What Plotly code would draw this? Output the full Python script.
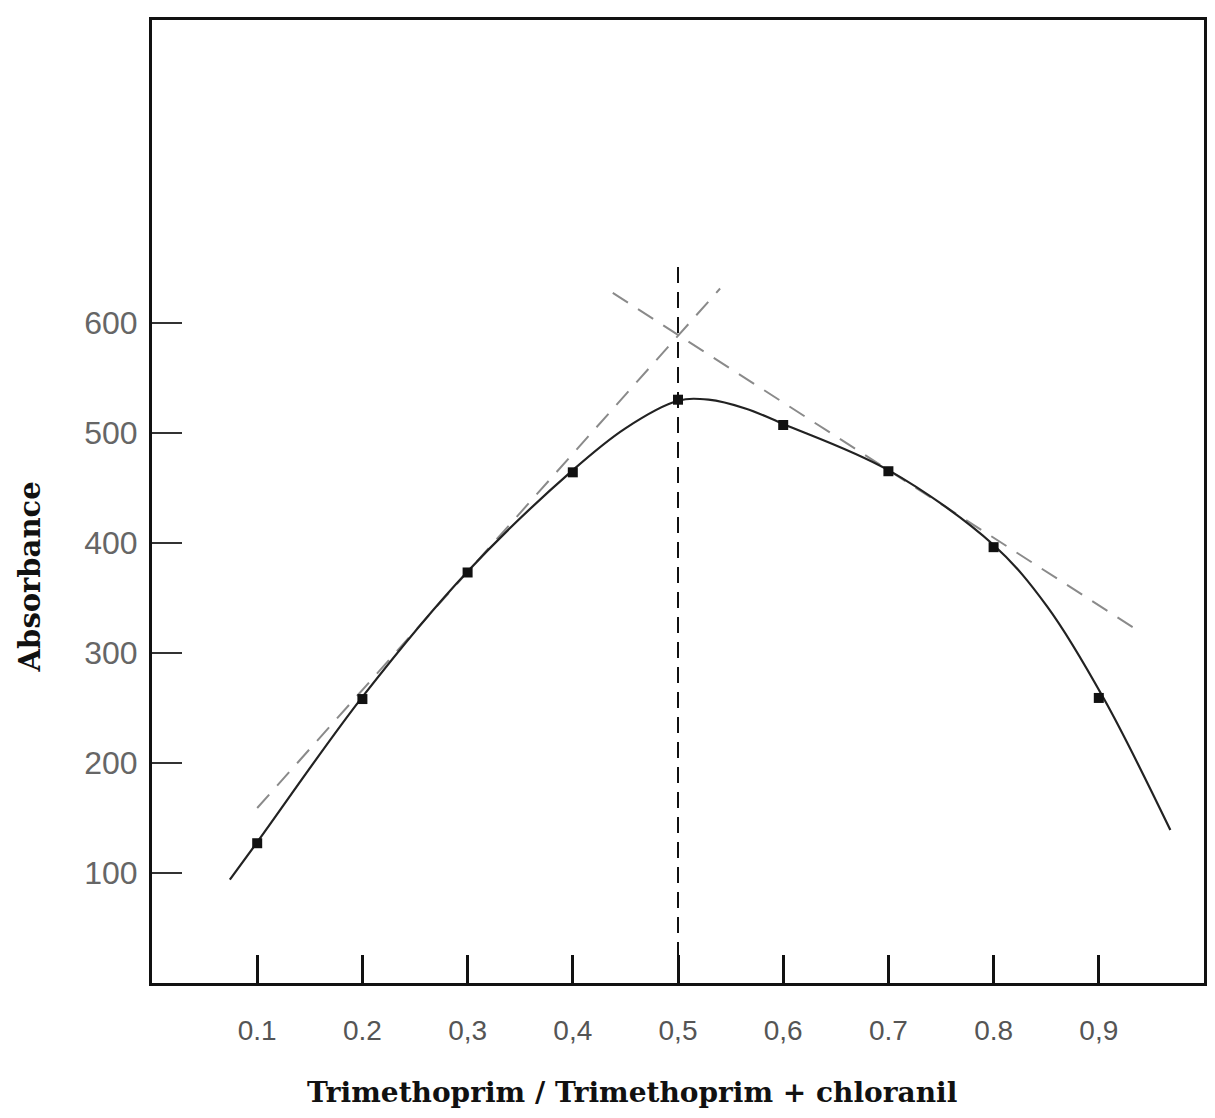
import plotly.graph_objects as go

# measured data points (mole fraction vs absorbance)
x_pts = [0.1, 0.2, 0.3, 0.4, 0.5, 0.6, 0.7, 0.8, 0.9]
y_pts = [127, 258, 373, 464, 530, 507, 465, 396, 259]

# smooth fitted curve
x_curve = [0.074, 0.1, 0.2, 0.3, 0.4, 0.45, 0.5, 0.529, 0.564, 0.6, 0.7, 0.8, 0.851, 0.905, 0.968]
y_curve = [94, 128, 260, 374, 466, 504, 529, 530, 522, 508, 466, 398, 342, 258, 139]

# tangent lines
x_tan_left = [0.10, 0.54]
y_tan_left = [159, 631]
x_tan_right = [0.438, 0.936]
y_tan_right = [627, 321]

# vertical guide at x = 0.5
x_vert = [0.5, 0.5]
y_vert = [0, 651]

x_ticks = [0.1, 0.2, 0.3, 0.4, 0.5, 0.6, 0.7, 0.8, 0.9]
x_ticktext = ["0.1", "0.2", "0,3", "0,4", "0,5", "0,6", "0.7", "0.8", "0,9"]
y_ticks = [100, 200, 300, 400, 500, 600]
y_ticktext = ["100", "200", "300", "400", "500", "600"]

fig = go.Figure()
fig.add_trace(go.Scatter(x=x_tan_left, y=y_tan_left, mode="lines",
                         line=dict(color="#8a8a8a", width=2, dash="18px,12px")))
fig.add_trace(go.Scatter(x=x_tan_right, y=y_tan_right, mode="lines",
                         line=dict(color="#8a8a8a", width=2, dash="18px,12px")))
fig.add_trace(go.Scatter(x=x_vert, y=y_vert, mode="lines",
                         line=dict(color="#111", width=2, dash="16px,9px")))
fig.add_trace(go.Scatter(x=x_curve, y=y_curve, mode="lines", line_shape="spline",
                         line=dict(color="#222", width=2.2)))
fig.add_trace(go.Scatter(x=x_pts, y=y_pts, mode="markers",
                         marker=dict(color="#111", size=10, symbol="square")))

fig.update_layout(
    width=1215, height=1118,
    margin=dict(l=152, r=8, t=20, b=135),
    paper_bgcolor="white", plot_bgcolor="white",
    showlegend=False,
    xaxis=dict(range=[0, 1.0], tickvals=x_ticks, ticktext=x_ticktext,
               ticks="inside", ticklen=28, tickwidth=2.5, tickcolor="#111",
               showline=True, linecolor="#111", linewidth=3, mirror=True,
               showgrid=False, zeroline=False,
               tickfont=dict(family="Liberation Sans", size=28, color="#555"),
               ticklabelstandoff=20),
    yaxis=dict(range=[0, 875], tickvals=y_ticks, ticktext=y_ticktext,
               ticks="inside", ticklen=30, tickwidth=2, tickcolor="#333",
               showline=True, linecolor="#111", linewidth=3, mirror=True,
               showgrid=False, zeroline=False,
               tickfont=dict(family="Liberation Sans", size=32, color="#666"),
               ticklabelstandoff=5),
    annotations=[
        dict(text="<b>Trimethoprim / Trimethoprim + chloranil</b>", xref="paper", yref="paper",
             x=0.456, y=-0.114, showarrow=False, xanchor="center", yanchor="middle",
             font=dict(family="DejaVu Serif", size=28, color="#111")),
        dict(text="<b>Absorbance</b>", xref="paper", yref="paper",
             x=-0.1156, y=0.4216, showarrow=False, textangle=-90,
             xanchor="center", yanchor="middle",
             font=dict(family="DejaVu Serif", size=29, color="#111")),
    ],
)

fig.write_html("out.html")
